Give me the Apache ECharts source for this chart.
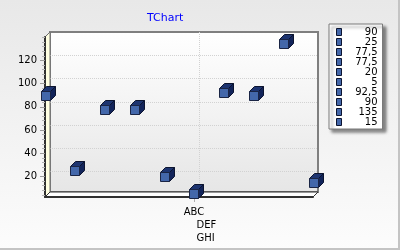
<!DOCTYPE html>
<html><head><meta charset="utf-8">
<script src="https://cdn.jsdelivr.net/npm/echarts@6/dist/echarts.min.js"></script>
<style>html,body{margin:0;padding:0;background:#fff;}#c{width:400px;height:250px;}</style>
</head><body><div id="c"></div>
<script>
// ---- data ----
const categories = ['', '', '', '', '', 'ABC\nDEF\nGHI', '', '', '', ''];
const values = [90, 25, 77.5, 77.5, 20, 5, 92.5, 90, 135, 15];
const legendLabels = ['90', '25', '77,5', '77,5', '20', '5', '92,5', '90', '135', '15'];
const yTickValues = [20, 40, 60, 80, 100, 120];
const yMinorTickValues = [4, 8, 12, 16, 24, 28, 32, 36, 44, 48, 52, 56, 64, 68, 72, 76, 84, 88, 92, 96, 104, 108, 112, 116, 124, 128, 132, 136, 140];
const yMin = 2.2, yMax = 140.2;

// ---- layout ----
const FL = 45, FT = 37, W = 268, H = 160, D = 5;
const FONT = 'DejaVu Sans';

// unique legend names (duplicates get invisible suffixes)
const seen = {};
const names = legendLabels.map(l => { seen[l] = (seen[l] || 0) + 1; return l + '\u200b'.repeat(seen[l] - 1); });

function cube(params, api) {
  const p = api.coord([api.value(0), api.value(1)]);
  const s = 9;
  const x0 = Math.round(p[0] - s / 2) + 0.5, y0 = Math.round(p[1] - s / 2) + 0.5;
  const x1 = x0 + s, y1 = y0 + s;
  const edge = '#0c1430';
  return { type: 'group', children: [
    { type: 'polygon', shape: { points: [[x0, y0], [x0 + D, y0 - D], [x1 + D, y0 - D], [x1, y0]] }, style: { fill: '#1d3470', stroke: edge, lineWidth: 1 } },
    { type: 'polygon', shape: { points: [[x1, y0], [x1 + D, y0 - D], [x1 + D, y1 - D], [x1, y1]] }, style: { fill: '#12245a', stroke: edge, lineWidth: 1 } },
    { type: 'rect', shape: { x: x0, y: y0, width: s, height: s }, style: { fill: '#4367aa', stroke: '#1a2545', lineWidth: 1 } }
  ]};
}

const catTickFilter = (i, v) => v !== '';

const chart = echarts.init(document.getElementById('c'), null, { renderer: 'canvas' });
chart.setOption({
  animation: false,
  backgroundColor: { type: 'linear', x: 0, y: 0, x2: 0, y2: 1, colorStops: [{ offset: 0, color: '#e8e8e8' }, { offset: 1, color: '#fcfcfc' }] },
  title: {
    text: 'TChart', left: 147, top: 12, padding: 0,
    textStyle: { color: '#0000ff', fontSize: 11, fontWeight: 'normal', fontFamily: FONT, lineHeight: 13 }
  },
  legend: {
    orient: 'vertical', left: 329, top: 24, padding: [3, 5, 2, 7],
    itemWidth: 5, itemHeight: 7, itemGap: 0, icon: 'rect',
    itemStyle: { color: '#4367aa', borderColor: '#0c1430', borderWidth: 1 },
    backgroundColor: '#ffffff', borderColor: '#7a7a7a', borderWidth: 1, borderRadius: 0,
    shadowColor: 'rgba(0,0,0,0.45)', shadowBlur: 3, shadowOffsetX: 3, shadowOffsetY: 3,
    selectedMode: false,
    data: names,
    formatter: n => '{v|' + n.replace(/\u200b/g, '') + '}',
    textStyle: { rich: { v: { width: 31, align: 'right', fontSize: 10, fontFamily: FONT, lineHeight: 13, color: '#000' } } }
  },
  grid: [
    { left: FL, top: FT, width: W, height: H, show: false },
    { left: FL + D, top: FT - D, width: W, height: H, show: true,
      backgroundColor: { type: 'linear', x: 0, y: 0, x2: 0, y2: 1, colorStops: [{ offset: 0, color: '#ffffff' }, { offset: 1, color: '#e6e6e6' }] },
      borderColor: '#7f7f7f', borderWidth: 2 }
  ],
  xAxis: [
    { gridIndex: 0, type: 'category', data: categories, boundaryGap: false, z: 3,
      axisLine: { show: true, lineStyle: { color: '#303030', width: 2 } },
      axisTick: { show: true, interval: catTickFilter, length: 5, lineStyle: { color: '#b0b0b0', width: 1 } },
      axisLabel: { interval: 0, margin: 9, color: '#000',
        formatter: v => v ? v.split('\n').map((l, i) => (i === 0 ? '{a|' : '{b|') + l + '}').join('\n') : '',
        rich: {
          a: { align: 'center', fontSize: 10, fontFamily: FONT, lineHeight: 13, color: '#000' },
          b: { align: 'left', padding: [0, 0, 0, 25], fontSize: 10, fontFamily: FONT, lineHeight: 13, color: '#000' }
        } },
      splitLine: { show: false } },
    { gridIndex: 1, type: 'category', data: categories, boundaryGap: false,
      axisLine: { show: false }, axisTick: { show: false, interval: catTickFilter }, axisLabel: { show: false },
      splitLine: { show: true, interval: catTickFilter, lineStyle: { color: '#d2d2d2', type: 'dotted', width: 1 } } }
  ],
  yAxis: [
    { gridIndex: 0, type: 'value', min: yMin, max: yMax, position: 'left', z: 3,
      axisLine: { show: true, lineStyle: { color: '#303030', width: 2 } },
      axisTick: { show: true, customValues: yTickValues, length: 5, lineStyle: { color: '#9a9a9a' } },
      axisLabel: { customValues: yTickValues, margin: 8, fontSize: 10, fontFamily: FONT, color: '#000' },
      splitLine: { show: false } },
    { gridIndex: 0, type: 'value', min: yMin, max: yMax, position: 'left', offset: 0, z: 3,
      axisLine: { show: false },
      axisTick: { show: true, customValues: yMinorTickValues, length: 3, lineStyle: { color: '#b4b4b4' } },
      axisLabel: { show: false }, splitLine: { show: false } },
    { gridIndex: 1, type: 'value', min: yMin, max: yMax,
      axisLine: { show: false }, axisTick: { show: false, customValues: yTickValues }, axisLabel: { show: false },
      splitLine: { show: true, lineStyle: { color: '#d2d2d2', type: 'dotted', width: 1 } } }
  ],
  graphic: [
    { type: 'polygon', z: 1, shape: { points: [[FL, FT], [FL + D, FT - D], [FL + D, FT + H - D], [FL, FT + H]] }, style: { fill: '#ffffe2', stroke: '#707070', lineWidth: 1 } },
    { type: 'polygon', z: 1, shape: { points: [[FL, FT + H], [FL + D, FT + H - D], [FL + W + D, FT + H - D], [FL + W, FT + H]] }, style: { fill: '#ffffff', stroke: '#303030', lineWidth: 1 } },
    { type: 'rect', z: 1, shape: { x: 398, y: 0, width: 2, height: 250 }, style: { fill: '#c4c4c4' } },
    { type: 'rect', z: 1, shape: { x: 0, y: 248, width: 400, height: 2 }, style: { fill: '#c4c4c4' } }
  ],
  series: values.map((v, i) => ({
    type: 'custom', name: names[i], coordinateSystem: 'cartesian2d', xAxisIndex: 0, yAxisIndex: 0,
    z: 5, clip: false, itemStyle: { color: '#4367aa' },
    data: [[i, v]], renderItem: cube
  }))
});
</script></body></html>
